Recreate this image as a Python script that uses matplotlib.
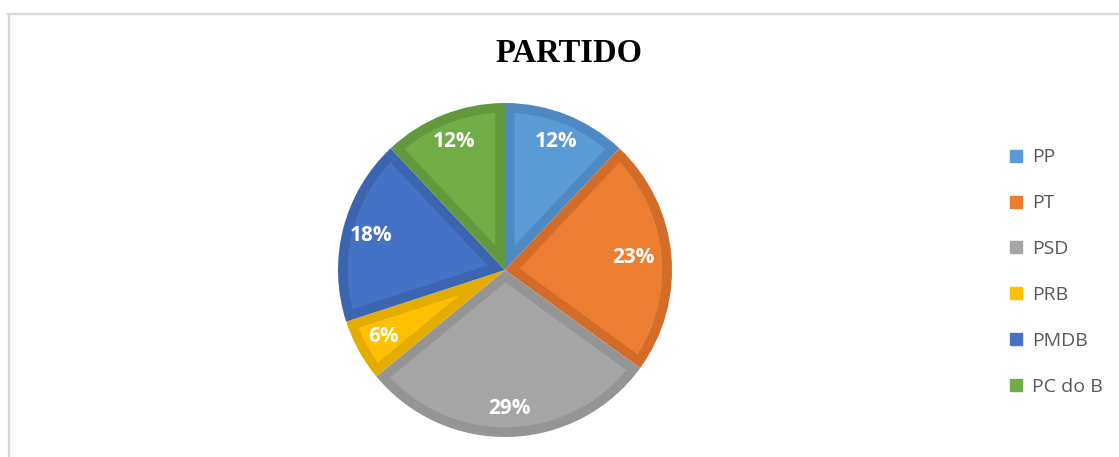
import matplotlib
matplotlib.use("Agg")
import matplotlib.pyplot as plt
import numpy as np
from matplotlib.lines import Line2D
from matplotlib.patches import Polygon

# dados do grafico
partidos = ["PP", "PT", "PSD", "PRB", "PMDB", "PC do B"]
percentuais = [12, 23, 29, 6, 18, 12]
cores = ["#5B9BD5", "#ED7D31", "#A5A5A5", "#FFC000", "#4472C4", "#70AD47"]
bordas = ["#4E89C1", "#D26C28", "#959595", "#E5AC00", "#3C65AF", "#62993D"]

W, H = 1119, 457
fig = plt.figure(figsize=(W / 100, H / 100), dpi=100)

# moldura cinza (so topo e esquerda aparecem)
fig.add_artist(Line2D([8 / W, 1], [1 - 13.5 / H, 1 - 13.5 / H], color="#D9D9D9", lw=1.6))
fig.add_artist(Line2D([8.5 / W, 8.5 / W], [0, 1 - 13.5 / H], color="#D9D9D9", lw=1.6))

cx, cy, r = 505, 270, 167
ax = fig.add_axes([(cx - r) / W, (H - cy - r) / H, 2 * r / W, 2 * r / H])
# camada de fundo com a cor da borda
wedges, texts, autotexts = ax.pie(
    percentuais, colors=bordas, startangle=90, counterclock=False,
    autopct=lambda p: f"{p:.0f}%", pctdistance=0.83, radius=1,
    wedgeprops=dict(linewidth=0),
    textprops=dict(color="white", fontsize=15, fontweight="bold", family="Open Sans"),
)


def miolo(w, d=0.058):
    # fatia recuada de d para dentro (borda interna uniforme)
    t1, t2 = np.radians(w.theta1), np.radians(w.theta2)
    meio = (t1 + t2) / 2
    a = d / np.sin((t2 - t1) / 2)
    apex = np.array([a * np.cos(meio), a * np.sin(meio)])
    rr = w.r - d
    da = np.arcsin(d / rr)
    ang = np.linspace(t1 + da, t2 - da, 80)
    arco = np.column_stack([rr * np.cos(ang), rr * np.sin(ang)])
    return np.vstack([apex, arco])


for w, c in zip(wedges, cores):
    ax.add_patch(Polygon(miolo(w), closed=True, facecolor=c, edgecolor="none", zorder=1.5))
for t in autotexts:
    t.set_zorder(3)
autotexts[1].set_position((0.77 * 0.996, 0.77 * 0.094))
ax.set_xlim(-1, 1)
ax.set_ylim(-1, 1)
ax.set_aspect("equal")
ax.axis("off")

fig.text(569 / W, 1 - 54 / H, "PARTIDO", ha="center", va="center",
         fontsize=23.5, fontweight="bold", family="Liberation Serif")

handles = [Line2D([], [], marker="s", linestyle="", markersize=9, color=c) for c in cores]
leg = fig.legend(handles, partidos, loc="upper left", bbox_to_anchor=(989 / W, 1 - 131 / H),
                 frameon=False, handletextpad=0.3, labelspacing=1.43, handlelength=1.0,
                 prop=dict(family="Open Sans", size=14))
for t in leg.get_texts():
    t.set_color("#595959")

fig.savefig("out.png", dpi=100)
